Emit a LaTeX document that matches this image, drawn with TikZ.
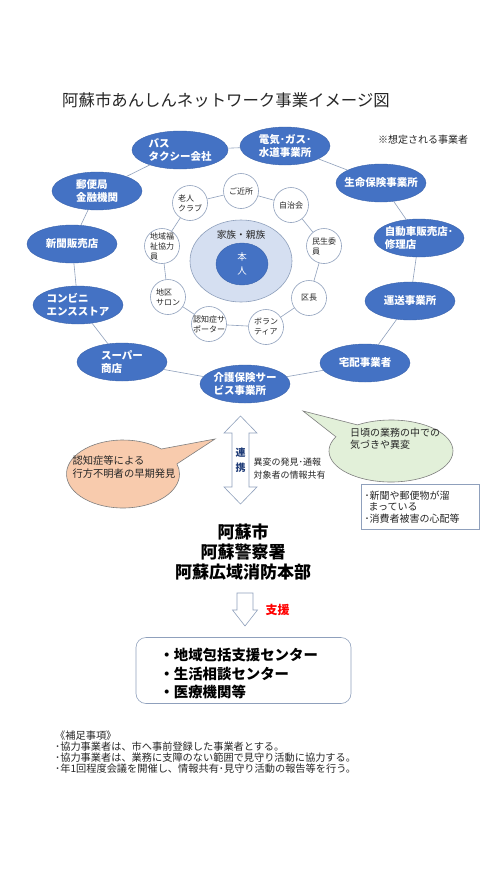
\documentclass[tikz,border=0pt]{standalone}
\usepackage{fontspec}
\setmainfont{Noto Sans CJK JP}
\usetikzlibrary{shapes.geometric,shapes.callouts}
\definecolor{obl}{HTML}{4472C4}
\definecolor{obd}{HTML}{3B64AD}
\definecolor{lnk}{HTML}{8FA0BC}
\definecolor{famfill}{HTML}{D5DFF1}
\definecolor{peach}{HTML}{F8CBAD}
\definecolor{lgreen}{HTML}{E2F0D9}
\definecolor{navy}{HTML}{1F3C78}
\definecolor{bubline}{HTML}{7F7F7F}
\definecolor{txt}{HTML}{262626}
\begin{document}
\begin{tikzpicture}[x=1pt,y=-1pt,
  outerbox/.style={ellipse, fill=obl, draw=obd, line width=0.4pt,
    minimum width=90pt, minimum height=38pt, inner xsep=-6pt, inner ysep=0pt,
    text=white, align=left, font=\fontsize{10.5}{12.5}\selectfont\bfseries},
  innerc/.style={circle, fill=white, draw=lnk, line width=0.6pt,
    minimum size=35pt, inner sep=-1pt, align=left, text=txt,
    font=\fontsize{8}{10}\selectfont},
  ringline/.style={draw=lnk, line width=0.6pt},
  arrowbox/.style={draw=lnk, fill=white, line width=0.6pt, line join=miter},
  bubble/.style={ellipse callout, draw=bubline, line width=0.6pt, callout pointer arc=30}
]
\fill[white] (0,0) rectangle (500,889);
\useasboundingbox (0,0) rectangle (500,889);

% title
\node[anchor=west, inner sep=0pt, text=txt, font=\fontsize{16.4}{18}\selectfont] (title) at (62,100) {阿蘇市あんしんネットワーク事業イメージ図};
\node[anchor=west, inner sep=0pt, text=txt, font=\fontsize{10}{12}\selectfont] (assume) at (378,140) {※想定される事業者};

% outer ring
\node[outerbox, minimum width=96pt] (bus) at (180,150) {バス\\タクシー会社};
\node[outerbox] (elec) at (285,146) {電気･ガス･\\水道事業所};
\node[outerbox] (life) at (381,183) {生命保険事業所};
\node[outerbox] (car) at (419,238) {自動車販売店･\\修理店};
\node[outerbox] (trans) at (410,301) {運送事業所};
\node[outerbox] (deliv) at (365,363) {宅配事業者};
\node[outerbox] (care) at (245,384) {介護保険サー\\ビス事業所};
\node[outerbox] (super) at (122,362) {スーパー\\商店};
\node[outerbox] (conv) at (78,305) {コンビニ\\エンスストア};
\node[outerbox] (news) at (72,244) {新聞販売店};
\node[outerbox] (post) at (97,191) {郵便局\\金融機関};
\foreach \a/\b in {bus/elec, elec/life, life/car, car/trans, trans/deliv, deliv/care, care/super, super/conv, conv/news, news/post, post/bus}
  \draw[ringline] (\a) -- (\b);

% inner ring
\node[innerc] (kinjo) at (241,191) {ご近所};
\node[innerc] (jichi) at (291,205) {自治会};
\node[innerc] (minsei) at (324,246) {民生委\\員};
\node[innerc] (kucho) at (309,298) {区長};
\node[innerc] (vol) at (266,327) {ボラン\\ティア};
\node[innerc] (sup) at (209,324) {認知症サ\\ポーター};
\node[innerc] (salon) at (168,297) {地区\\サロン};
\node[innerc] (fukushi) at (162,246) {地域福\\祉協力\\員};
\node[innerc] (rojin) at (190,203) {老人\\クラブ};
\foreach \a/\b in {kinjo/jichi, jichi/minsei, minsei/kucho, kucho/vol, vol/sup, sup/salon, salon/fukushi, fukushi/rojin, rojin/kinjo}
  \draw[ringline] (\a) -- (\b);

% family / self
\node[ellipse, fill=famfill, draw=lnk, line width=0.6pt, minimum width=102pt, minimum height=82pt] (fam) at (241,261) {};
\node[text=txt, font=\fontsize{9.7}{11}\selectfont] (famtxt) at (241,235) {家族・親族};
\node[ellipse, fill=obl, draw=obd, line width=0.4pt, minimum width=52pt, minimum height=42pt, inner sep=0pt, text=white, align=center, font=\fontsize{9.5}{14}\selectfont] (self) at (242,264) {本\\人};

% callouts
\coordinate (tipL) at (215,439);
\coordinate (tipR) at (303,411);
\node[bubble, fill=peach, minimum width=113pt, minimum height=68pt, callout absolute pointer={(tipL)}] (bubL) at (123,474) {};
\node[align=left, text=txt, font=\fontsize{10.3}{13}\selectfont] (bubLtxt) at (124,467) {認知症等による\\行方不明者の早期発見};
\node[bubble, fill=lgreen, minimum width=124pt, minimum height=62pt, callout absolute pointer={(tipR)}] (bubR) at (391,451) {};
\node[align=left, text=txt, font=\fontsize{10}{12}\selectfont] (bubRtxt) at (395,439) {日頃の業務の中での\\気づきや異変};

% double arrow
\draw[arrowbox] (240.5,416) -- (257,433) -- (249,433) -- (249,487) -- (257,487) -- (240.5,504) -- (224,487) -- (232,487) -- (232,433) -- (224,433) -- cycle;
\node[text=navy, align=center, font=\fontsize{10}{15}\selectfont\bfseries] (renkei) at (240.5,460.5) {連\\携};
\node[anchor=west, align=left, text=txt, font=\fontsize{9}{13}\selectfont] (info) at (250,468.5) {異変の発見･通報\\対象者の情報共有};

% note box
\node[draw=lnk, fill=white, line width=0.6pt, minimum width=118pt, minimum height=45pt] (notebox) at (420,507) {};
\node[anchor=west, align=left, text=txt, font=\fontsize{10}{11.2}\selectfont] (notetxt) at (361,507) {･新聞や郵便物が溜\\\hspace{4pt}まっている\\･消費者被害の心配等};

% organisations
\node[align=center, font=\fontsize{17}{20}\selectfont\bfseries] (orgs) at (243,552) {阿蘇市\\阿蘇警察署\\阿蘇広域消防本部};

% down arrow
\draw[arrowbox] (237,593) -- (253,593) -- (253,610) -- (257.5,610) -- (245,626) -- (232.5,610) -- (237,610) -- cycle;
\node[text=red, font=\fontsize{12}{14}\selectfont\bfseries] (shien) at (277.5,610) {支援};

% support box
\node[draw=lnk, line width=0.6pt, rounded corners=10pt, minimum width=215pt, minimum height=66pt] (supportbox) at (243.5,670.5) {};
\node[anchor=west, align=left, font=\fontsize{14.4}{18.5}\selectfont\bfseries] (supporttxt) at (156,673.5) {・地域包括支援センター\\・生活相談センター\\・医療機関等};

% notes
\node[anchor=north west, align=left, inner sep=0pt, text=txt, font=\fontsize{10.2}{10.8}\selectfont] (notes) at (55,731) {《補足事項》\\･協力事業者は、市へ事前登録した事業者とする。\\･協力事業者は、業務に支障のない範囲で見守り活動に協力する。\\･年1回程度会議を開催し、情報共有･見守り活動の報告等を行う。};
\end{tikzpicture}
\end{document}
